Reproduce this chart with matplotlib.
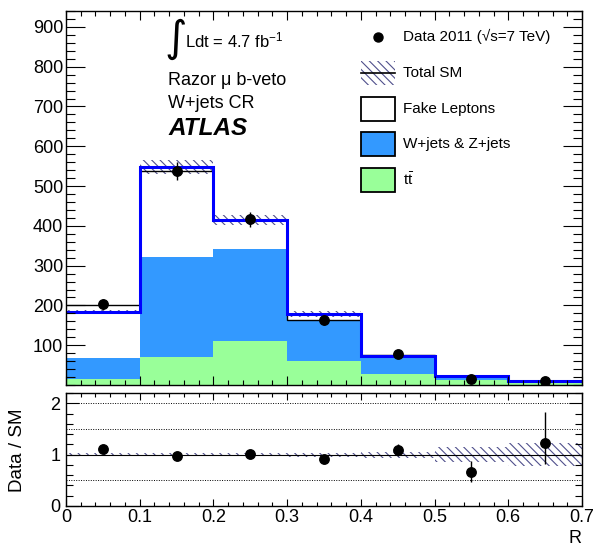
import numpy as np
import matplotlib
matplotlib.use('Agg')
import matplotlib.pyplot as plt
from matplotlib.patches import Rectangle
from matplotlib.lines import Line2D
from matplotlib.ticker import MultipleLocator, FuncFormatter

plt.rcParams['font.family'] = ['Liberation Sans', 'DejaVu Sans']
plt.rcParams['mathtext.fontset'] = 'custom'
plt.rcParams['mathtext.rm'] = 'Liberation Sans'
plt.rcParams['mathtext.it'] = 'Liberation Sans:italic'
plt.rcParams['mathtext.bf'] = 'Liberation Sans:bold'
plt.rcParams['hatch.linewidth'] = 0.8

# binning in R
edges = [0.0, 0.1, 0.2, 0.3, 0.4, 0.5, 0.6, 0.7]
centers = [0.05, 0.15, 0.25, 0.35, 0.45, 0.55, 0.65]

# stacked backgrounds (events / bin)
ttbar = [14, 70, 111, 60, 27, 12, 4]
wzjets = [53, 251, 230, 103, 42, 6, 3]
fakes = [116, 227, 73, 16, 3, 4, 2]
sm_line = [202, 538, 414, 163, 75, 22, 9]
sm_unc = [0.03, 0.03, 0.03, 0.04, 0.06, 0.14, 0.23]

# data
data = [203, 538, 416, 164, 78, 14.5, 11]
data_err = [14, 23, 20, 13, 9, 4, 3]
ratio_err_lo = [0.07, 0.04, 0.05, 0.07, 0.11, 0.19, 0.41]
ratio_err_hi = [0.07, 0.04, 0.05, 0.07, 0.12, 0.22, 0.60]
ratio_grid = [0.5, 1.5, 2.0]

c_tt = '#99ff99'
c_wz = '#3399ff'
c_hatch = '#50508c'
hatch = '\\\\\\\\'

W, H = 595, 551
fig = plt.figure(figsize=(W / 100, H / 100), dpi=100)


def fx(x):
    return x / W


def fy(y):
    return 1 - y / H


ax = fig.add_axes([fx(66), fy(385), (582 - 66) / W, (385 - 11) / H])
rax = fig.add_axes([fx(66), fy(506), (582 - 66) / W, (506 - 393) / H])

e = np.array(edges)
tt = np.array(ttbar, float)
wz_top = tt + np.array(wzjets)
total = wz_top + np.array(fakes)
unc = np.array(sm_unc)

# main panel
ax.stairs(tt, e, baseline=0, fill=True, facecolor=c_tt, lw=0)
ax.stairs(wz_top, e, baseline=tt, fill=True, facecolor=c_wz, lw=0)
ax.stairs(total, e, baseline=wz_top, fill=True, facecolor='white', lw=0)
ax.stairs(total * (1 + unc), e, baseline=total * (1 - unc), fill=True,
          facecolor='none', edgecolor=c_hatch, hatch=hatch, lw=0)
ax.stairs(sm_line, e, baseline=None, color='black', lw=1)
ax.stairs(total, e, baseline=None, color='blue', lw=2.2)
ax.errorbar(centers, data, yerr=data_err, fmt='o', color='black', ms=6.8,
            elinewidth=1, capsize=0, zorder=5)

ax.set_xlim(0, 0.7)
ax.set_ylim(0, 940)
ax.xaxis.set_major_locator(MultipleLocator(0.1))
ax.xaxis.set_minor_locator(MultipleLocator(0.02))
ax.set_yticks(range(100, 901, 100))
ax.yaxis.set_minor_locator(MultipleLocator(20))
ax.tick_params(which='both', direction='in', top=True, right=True,
               labelbottom=False, width=0.8)
ax.tick_params(axis='y', which='major', length=13.5, labelsize=13, pad=2)
ax.tick_params(axis='y', which='minor', length=6.5)
ax.tick_params(axis='x', which='major', length=6.5)
ax.tick_params(axis='x', which='minor', length=3.6)

# ratio panel
ratio = np.array(data) / total
rax.stairs(1 + unc, e, baseline=1 - unc, fill=True, facecolor='none',
           edgecolor=c_hatch, hatch=hatch, lw=0)
rax.axhline(1, color='black', lw=0.8)
for yv in ratio_grid:
    rax.axhline(yv, color='black', lw=0.7, ls=(0, (1, 1.5)))
rax.errorbar(centers, ratio, yerr=[ratio_err_lo, ratio_err_hi], fmt='o',
             color='black', ms=6.8, elinewidth=1, capsize=0, zorder=5)

rax.set_xlim(0, 0.7)
rax.set_ylim(0, 2.2)
rax.xaxis.set_major_locator(MultipleLocator(0.1))
rax.xaxis.set_minor_locator(MultipleLocator(0.02))
rax.set_yticks([0, 1, 2])
rax.yaxis.set_minor_locator(MultipleLocator(0.2))
fmt = FuncFormatter(lambda v, _: '%g' % round(v, 2))
rax.xaxis.set_major_formatter(fmt)
rax.yaxis.set_major_formatter(fmt)
rax.tick_params(which='both', direction='in', top=True, right=True,
                labelsize=13, width=0.8)
rax.tick_params(axis='y', which='major', length=9.4, pad=4)
rax.tick_params(axis='y', which='minor', length=4.7)
rax.tick_params(axis='x', which='major', length=5, pad=2)
rax.tick_params(axis='x', which='minor', length=2.9)

for a in (ax, rax):
    for s in a.spines.values():
        s.set_linewidth(1.0)

fig.text(fx(18), fy(450), 'Data / SM', rotation=90, fontsize=13.5,
         ha='center', va='center')
fig.text(fx(582), fy(543), 'R', fontsize=13, ha='right', va='baseline')

# labels top left
fig.text(fx(164), fy(39), '\u222b', fontsize=31, family='DejaVu Sans',
         ha='left', va='center')
fig.text(fx(185), fy(47), r'Ldt = 4.7 fb$^{\mathregular{-1}}$', fontsize=12,
         va='baseline')
fig.text(fx(168), fy(85), 'Razor \u03bc b-veto', fontsize=13, va='baseline')
fig.text(fx(168), fy(108), 'W+jets CR', fontsize=13, va='baseline')
fig.text(fx(168), fy(135), 'ATLAS', fontsize=17.5, weight='bold',
         style='italic', va='baseline')

# legend
rows = [36.7, 72.7, 109, 144.3, 180]
labels = ['Data 2011 (\u221as=7 TeV)', 'Total SM', 'Fake Leptons',
          'W+jets & Z+jets', r't$\bar{\mathregular{t}}$']
for yr, lab in zip(rows, labels):
    fig.text(fx(403), fy(yr), lab, fontsize=11, va='center')

fig.add_artist(Line2D([fx(378)], [fy(rows[0])], marker='o', ms=6.5,
                      color='black', ls='none'))
fig.add_artist(Rectangle((fx(361), fy(rows[1] + 12)), 34 / W, 24 / H,
                         transform=fig.transFigure, facecolor='none',
                         edgecolor=c_hatch, hatch=hatch, lw=0))
fig.add_artist(Line2D([fx(361), fx(395)], [fy(rows[1])] * 2, color='black',
                      lw=1.2))
for yr, col in zip(rows[2:], ['white', c_wz, c_tt]):
    fig.add_artist(Rectangle((fx(361), fy(yr + 12)), 34 / W, 24 / H,
                             transform=fig.transFigure, facecolor=col,
                             edgecolor='black', lw=1.3))

fig.savefig('out.png', dpi=100)
